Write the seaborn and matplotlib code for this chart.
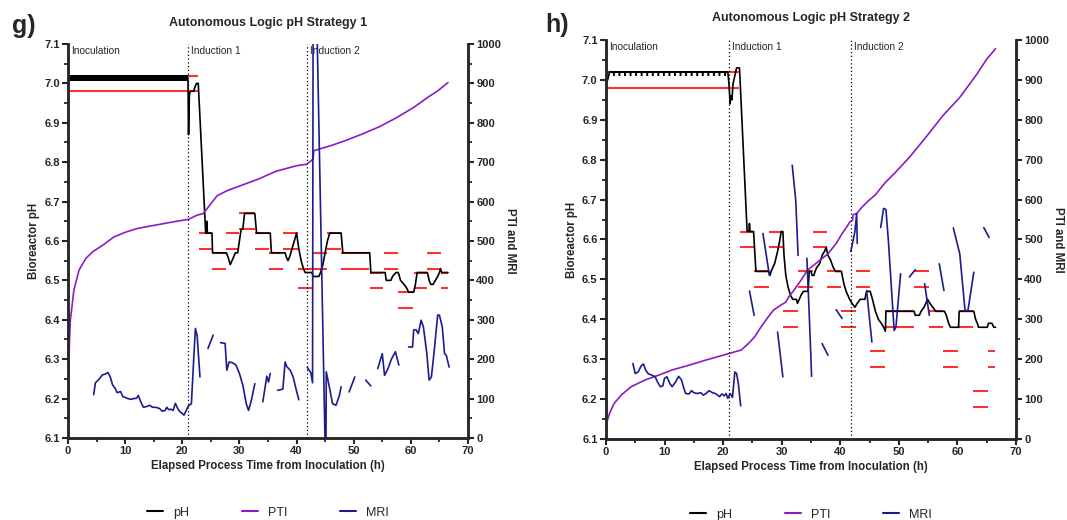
import matplotlib
matplotlib.use("Agg")
import matplotlib.pyplot as plt
from matplotlib.lines import Line2D
from matplotlib.ticker import MultipleLocator, FormatStrFormatter
import numpy as np
import pandas as pd
import seaborn as sns

gap = None

# ---------- Panel g: strategy 1 ----------
left_band = (0.0, 21.0, 7.007, 7.022)   # t0, t1, low, high of the dense pH oscillation
left_ph_t = [21.0, 21.1, 21.25, 21.4, 22.0, 22.2, 22.5, 22.8, 24.1, 24.2, 24.3, 24.4, 25.2, 25.3,
             27.7, 28.0, 28.2, 28.4, 28.7, 29.0, 29.3, 29.7, 30.0, 30.3, 30.6, 30.9, 32.7, 33.0,
             35.4, 35.6, 38.0, 38.2, 38.5, 38.8, 39.2, 39.6, 40.0, 40.4, 40.8, 41.2, 41.5, 42.7,
             42.9, 43.9, 44.2, 44.6, 45.0, 45.4, 45.8, 47.8, 48.1, 52.8, 53.0, 55.5, 55.7, 56.5,
             56.8, 57.4, 57.8, 58.2, 58.8, 59.3, 59.6, 60.5, 60.8, 61.1, 62.9, 63.2, 63.5, 63.9,
             64.3, 64.7, 65.0, 65.2, 65.4, 66.5]
left_ph_v = [7.01, 6.87, 6.97, 6.98, 6.98, 6.99, 7.00, 7.00, 6.62, 6.62, 6.65, 6.62, 6.62, 6.57,
             6.57, 6.56, 6.55, 6.54, 6.55, 6.56, 6.57, 6.57, 6.60, 6.63, 6.63, 6.67, 6.67, 6.62,
             6.62, 6.57, 6.57, 6.56, 6.55, 6.56, 6.58, 6.60, 6.62, 6.58, 6.55, 6.53, 6.52, 6.52,
             6.51, 6.51, 6.52, 6.54, 6.57, 6.60, 6.62, 6.62, 6.57, 6.57, 6.52, 6.52, 6.50, 6.50,
             6.51, 6.52, 6.52, 6.50, 6.49, 6.48, 6.47, 6.47, 6.49, 6.52, 6.52, 6.50, 6.49, 6.49,
             6.50, 6.51, 6.52, 6.53, 6.52, 6.52]
left_red_t0 = [0, 0, 22.9, 22.9, 25.2, 25.2, 27.6, 27.6, 30.0, 30.0, 32.7, 32.7, 35.1, 35.1,
               37.6, 37.6, 40.2, 40.2, 42.9, 42.9, 45.3, 45.3, 47.8, 47.8, 52.8, 52.8, 55.3, 55.3,
               57.8, 57.8, 60.5, 60.5, 62.9, 62.9, 65.3, 65.3]
left_red_t1 = [22.8, 22.8, 25.2, 25.2, 27.6, 27.6, 30.0, 30.0, 32.7, 32.7, 35.1, 35.1, 37.6, 37.6,
               40.2, 40.2, 42.7, 42.7, 45.3, 45.3, 47.8, 47.8, 52.6, 52.6, 55.2, 55.2, 57.8, 57.8,
               60.3, 60.3, 62.9, 62.9, 65.3, 65.3, 66.5, 66.5]
left_red_lvl = [7.02, 6.98, 6.62, 6.58, 6.57, 6.53, 6.62, 6.58, 6.67, 6.63, 6.62, 6.58, 6.57, 6.53,
                6.62, 6.58, 6.53, 6.48, 6.57, 6.53, 6.62, 6.58, 6.57, 6.53, 6.52, 6.48, 6.57, 6.53,
                6.47, 6.43, 6.52, 6.48, 6.57, 6.53, 6.52, 6.48]
left_pti_t = [0.0, 0.05, 0.15, 0.25, 0.42, 1.03, 1.93, 3.14, 4.35, 6.16, 8.0, 10.0, 12.2, 15.2,
              18.2, 21.1, 22.5, 23.7, 26.1, 27.9, 30.3, 33.3, 36.4, 40.0, 41.8, 42.9, 43.0, 46.0,
              48.4, 51.4, 54.5, 57.5, 60.5, 62.9, 64.7, 66.5]
left_pti_v = [0, 50, 170, 240, 299, 375, 426, 456, 473, 490, 510, 522, 532, 540,
              548, 555, 565, 570, 615, 628, 641, 657, 677, 691, 695, 708, 729, 742,
              754, 771, 790, 813, 839, 864, 881, 902]
left_mri_t = [4.5, 4.8, 5.5, 6.0, 6.5, 7.0, 7.4, 7.8, 8.3, 8.6, 9.2, 9.6, 10.0, 10.5, 11.0, 11.5,
              12.0, 12.3, 12.8, 13.2, 13.8, 14.3, 14.8, 15.3, 16.0, 16.5, 17.0, 17.3, 17.6, 18.0,
              18.4, 18.8, 19.2, 19.5, 20.0, 20.3, 20.7, 21.1, 21.6, 22.0, 22.3, 22.6, 23.1, gap,
              24.5, 25.4, gap,
              26.7, 27.5, 27.8, 28.2, 28.8, 29.4, 30.0, 30.6, 31.2, 31.6, 32.1, 32.7, gap,
              34.1, 34.8, 35.1, 35.4, gap,
              36.7, 37.6, 38.0, 38.3, 38.9, 39.4, 39.9, 40.4, gap,
              41.9, 42.5, 42.8, 42.9, 43.5, 45.0, 45.15, 45.2, 45.8, 46.3, 46.9, 47.5, 47.8, gap,
              49.2, 50.2, gap,
              52.1, 53.0, gap,
              54.2, 55.0, 55.4, 56.0, 56.6, 57.3, 57.9, gap,
              59.6, 60.3, 60.5, 60.9, 61.3, 61.8, 62.2, 62.8, 63.2, 63.6, 64.1, 64.7, 65.0, 65.5,
              65.9, 66.2, 66.7]
left_mri_v = [110, 140, 150, 160, 162, 166, 155, 135, 125, 115, 118, 105, 103, 100, 98, 100,
              101, 108, 90, 78, 80, 83, 78, 78, 75, 68, 70, 78, 72, 73,
              70, 88, 75, 68, 62, 58, 70, 82, 87, 200, 278, 260, 155, gap,
              227, 261, gap,
              242, 240, 172, 193, 191, 185, 164, 134, 87, 70, 96, 138, gap,
              92, 157, 142, 164, gap,
              121, 124, 193, 181, 172, 155, 125, 97, gap,
              179, 165, 140, 1100, 1100, -20, -20, 168, 125, 87, 83, 108, 130, gap,
              117, 155, gap,
              147, 132, gap,
              176, 214, 159, 176, 200, 219, 185, gap,
              231, 231, 274, 275, 265, 299, 282, 214, 147, 155, 223, 312, 312, 282,
              214, 210, 180]

# ---------- Panel h: strategy 2 ----------
right_band = (0.6, 20.8, 7.010, 7.020)
right_ph_t = [0.0, 0.3, 0.6, 20.8, 21.0, 21.2, 21.3, 21.5, 21.7, 22.0, 22.3, 22.8, 24.1, 24.4,
              24.5, 24.6, 25.2, 25.6, 27.8, 28.0, 28.2, 28.8, 29.3, 29.7, 29.9, 30.2, 30.4, 30.7,
              31.1, 31.5, 31.9, 32.5, 32.7, 33.0, 33.3, 33.7, 34.5, 34.7, 35.0, 35.2, 35.5, 35.7,
              36.0, 36.5, 36.9, 37.3, 37.6, 37.9, 38.3, 38.8, 39.2, 40.2, 40.6, 41.0, 41.6, 42.0,
              42.5, 42.9, 43.4, 44.2, 44.5, 45.1, 45.5, 46.0, 46.5, 47.0, 47.4, 47.7, 47.8, 52.6,
              52.8, 53.5, 53.8, 54.3, 54.9, 55.3, 55.8, 56.3, 57.8, 58.1, 58.5, 58.8, 60.2, 60.3,
              62.8, 63.1, 63.4, 63.6, 65.1, 65.3, 65.9, 66.2, 66.5]
right_ph_v = [7.00, 7.00, 7.02, 7.02, 6.99, 6.94, 6.96, 6.95, 6.99, 7.01, 7.03, 7.03, 6.62, 6.62,
              6.64, 6.62, 6.62, 6.52, 6.52, 6.51, 6.52, 6.54, 6.57, 6.60, 6.62, 6.62, 6.56, 6.51,
              6.48, 6.46, 6.45, 6.45, 6.44, 6.45, 6.46, 6.47, 6.47, 6.52, 6.52, 6.51, 6.51, 6.52,
              6.53, 6.54, 6.56, 6.57, 6.58, 6.56, 6.55, 6.53, 6.52, 6.52, 6.49, 6.47, 6.45, 6.44,
              6.43, 6.44, 6.45, 6.45, 6.47, 6.47, 6.45, 6.42, 6.40, 6.39, 6.38, 6.37, 6.42, 6.42,
              6.41, 6.41, 6.42, 6.43, 6.45, 6.44, 6.43, 6.42, 6.42, 6.41, 6.39, 6.38, 6.38, 6.42,
              6.42, 6.40, 6.39, 6.38, 6.38, 6.39, 6.39, 6.38, 6.38]
right_red_t0 = [0, 0, 22.8, 22.8, 25.3, 25.3, 27.8, 27.8, 30.2, 30.2, 32.7, 32.7, 35.3, 35.3,
                37.7, 37.7, 40.2, 40.2, 42.7, 42.7, 45.1, 45.1, 47.7, 47.7, 52.6, 52.6, 55.1, 55.1,
                57.6, 57.6, 60.2, 60.2, 62.7, 62.7, 65.2, 65.2]
right_red_t1 = [22.7, 22.7, 25.3, 25.3, 27.8, 27.8, 30.2, 30.2, 32.7, 32.7, 35.3, 35.3, 37.7, 37.7,
                40.2, 40.2, 42.7, 42.7, 45.1, 45.1, 47.6, 47.6, 52.6, 52.6, 55.1, 55.1, 57.6, 57.6,
                60.1, 60.1, 62.7, 62.7, 65.2, 65.2, 66.5, 66.5]
right_red_lvl = [7.02, 6.98, 6.62, 6.58, 6.52, 6.48, 6.62, 6.58, 6.42, 6.38, 6.52, 6.48, 6.62, 6.58,
                 6.52, 6.48, 6.42, 6.38, 6.52, 6.48, 6.32, 6.28, 6.42, 6.38, 6.52, 6.48, 6.42, 6.38,
                 6.32, 6.28, 6.42, 6.38, 6.22, 6.18, 6.32, 6.28]
right_pti_t = [0.0, 0.1, 0.6, 1.4, 2.6, 4.3, 6.7, 9.0, 11.3, 14.2, 17.1, 20.0, 23.1, 24.3, 25.4,
               26.3, 27.5, 28.6, 29.8, 30.7, 31.2, 32.1, 33.3, 34.4, 36.1, 37.9, 39.3, 40.2, 41.7,
               42.1, 42.2, 42.8, 43.7, 44.8, 46.0, 47.7, 49.4, 51.8, 54.6, 57.5, 60.4, 63.3, 65.0,
               66.5]
right_pti_v = [0, 39, 64, 89, 110, 131, 148, 160, 173, 185, 198, 210, 223, 239, 256,
               277, 302, 323, 335, 343, 356, 373, 398, 423, 443, 464, 490, 512, 545,
               548, 562, 565, 581, 597, 612, 643, 668, 706, 756, 810, 856, 914, 952,
               978]
right_mri_t = [4.6, 5.0, 5.5, 6.0, 6.4, 6.8, 7.2, 7.8, 8.4, 8.8, 9.3, 9.7, 10.0, 10.4, 10.9, 11.3,
               11.9, 12.4, 12.9, 13.3, 13.6, 14.2, 14.6, 15.0, 15.6, 16.2, 16.6, 17.1, 17.6, 18.2,
               18.8, 19.4, 19.8, 20.2, 20.5, 20.8, 21.2, 21.6, 22.0, 22.3, 22.6, 23.0, gap,
               24.5, 25.3, gap,
               26.8, 27.9, gap,
               29.3, 30.2, gap,
               31.8, 32.4, 32.8, gap,
               34.3, 34.6, 35.0, 35.1, gap,
               36.9, 37.9, gap,
               39.3, 40.3, gap,
               41.8, 42.5, 42.8, 42.9, gap,
               44.5, 45.4, gap,
               46.9, 47.4, 47.8, 48.2, 49.2, 49.5, 50.3, gap,
               51.8, 52.8, gap,
               54.4, 55.2, gap,
               56.9, 57.7, gap,
               59.3, 60.4, 61.3, 61.8, 62.8, gap,
               64.5, 65.4]
right_mri_v = [189, 164, 168, 183, 188, 172, 164, 160, 156, 143, 131, 133, 152, 156, 139, 131,
               143, 157, 148, 127, 114, 113, 121, 116, 114, 116, 110, 114, 121, 116,
               113, 106, 113, 108, 114, 102, 114, 104, 168, 164, 139, 83, gap,
               371, 310, gap,
               515, 410, gap,
               268, 156, gap,
               686, 598, 460, gap,
               453, 350, 200, 157, gap,
               239, 210, gap,
               324, 302, gap,
               470, 520, 565, 490, gap,
               372, 243, gap,
               530, 578, 575, 500, 272, 280, 414, gap,
               406, 424, gap,
               389, 310, gap,
               439, 372, gap,
               529, 464, 322, 322, 418, gap,
               530, 505]

phase_t = [21, 41.8]
phase_names = ["Inoculation", "Induction 1", "Induction 2"]
phase_start = [0, 21, 41.8]
series_names = ["pH", "PTI", "MRI"]

PH_C = "black"
PTI_C = "#8B1CC4"
MRI_C = "#1C1C8E"
RED_C = "#FF3030"

sns.set_style("ticks")
plt.rcParams["font.family"] = ["Liberation Sans", "DejaVu Sans"]
plt.rcParams["font.weight"] = "bold"
plt.rcParams["axes.labelweight"] = "bold"
plt.rcParams["axes.titleweight"] = "bold"
plt.rcParams["hatch.linewidth"] = 1.4


def segments(t, v):
    df = pd.DataFrame({"t": t, "v": v}, dtype=float)
    df["seg"] = df["t"].isna().cumsum()
    return df.dropna()


def draw_panel(ax, title, band, hatch, ph_t, ph_v, red_t0, red_t1, red_lvl,
               pti_t, pti_v, mri_t, mri_v, title_pad):
    ax2 = ax.twinx()

    # pH side
    ax.hlines(red_lvl, red_t0, red_t1, color=RED_C, lw=1.5, zorder=2)
    if hatch:
        ax.fill_between([band[0], band[1]], band[2], band[3], facecolor="none",
                        edgecolor=PH_C, hatch="|||", linewidth=0, zorder=3)
        ax.hlines(band[3], band[0], band[1], color=PH_C, lw=1.3, zorder=3)
    else:
        ax.fill_between([band[0], band[1]], band[2], band[3], color=PH_C,
                        linewidth=0, zorder=3)
    ph = pd.DataFrame({"t": ph_t, "ph": ph_v})
    sns.lineplot(data=ph, x="t", y="ph", ax=ax, color=PH_C, lw=1.2,
                 estimator=None, sort=False, zorder=3)
    for t in phase_t:
        ax.axvline(t, color="black", ls=(0, (1, 2)), lw=0.9)
    for t0, name in zip(phase_start, phase_names):
        ax.text(t0 + 0.6, 7.095, name, fontsize=7.3, fontweight="normal", va="top", ha="left")

    # PTI / MRI side
    pti = pd.DataFrame({"t": pti_t, "v": pti_v})
    sns.lineplot(data=pti, x="t", y="v", ax=ax2, color=PTI_C, lw=1.2,
                 estimator=None, sort=False)
    sns.lineplot(data=segments(mri_t, mri_v), x="t", y="v", units="seg", ax=ax2,
                 color=MRI_C, lw=1.2, estimator=None, sort=False, legend=False)

    ax.set_xlim(0, 70)
    ax.set_ylim(6.1, 7.1)
    ax2.set_ylim(0, 1000)
    ax.xaxis.set_major_locator(MultipleLocator(10))
    ax.xaxis.set_minor_locator(MultipleLocator(5))
    ax.yaxis.set_major_locator(MultipleLocator(0.1))
    ax.yaxis.set_minor_locator(MultipleLocator(0.05))
    ax.yaxis.set_major_formatter(FormatStrFormatter("%.1f"))
    ax2.yaxis.set_major_locator(MultipleLocator(100))
    ax2.yaxis.set_minor_locator(MultipleLocator(50))

    for a in (ax, ax2):
        a.tick_params(which="major", length=4, width=1.5, labelsize=8, pad=2)
        a.tick_params(which="minor", length=3, width=1.3)
        a.spines["top"].set_visible(False)
        for s in ("left", "right", "bottom"):
            a.spines[s].set_linewidth(1.8)

    ax.set_xlabel("Elapsed Process Time from Inoculation (h)", fontsize=8.3, labelpad=3)
    ax.set_ylabel("Bioreactor pH", fontsize=8.3, labelpad=3)
    ax2.set_ylabel("PTI and MRI", fontsize=8.3, rotation=270, labelpad=11)
    ax.set_title(title, fontsize=9, pad=title_pad)

    handles = [Line2D([0], [0], color=c, lw=1.5) for c in (PH_C, PTI_C, MRI_C)]
    ax2.legend(handles, series_names, loc="center", bbox_to_anchor=(0.5, -0.19),
               ncol=3, frameon=False, columnspacing=4.2, handlelength=1.3,
               handletextpad=0.8, prop={"weight": "normal", "size": 9})
    return ax2


fig = plt.figure(figsize=(10.67, 5.2), dpi=100)
ax_g = fig.add_axes([0.0637, 0.1577, 0.3749, 0.7577])
ax_h = fig.add_axes([0.5679, 0.1558, 0.3843, 0.7673])

draw_panel(ax_g, "Autonomous Logic pH Strategy 1", left_band, False, left_ph_t, left_ph_v,
           left_red_t0, left_red_t1, left_red_lvl, left_pti_t, left_pti_v,
           left_mri_t, left_mri_v, 13)
draw_panel(ax_h, "Autonomous Logic pH Strategy 2", right_band, True, right_ph_t, right_ph_v,
           right_red_t0, right_red_t1, right_red_lvl, right_pti_t, right_pti_v,
           right_mri_t, right_mri_v, 14)

fig.text(0.011, 0.937, "g)", fontsize=18, fontweight="bold", va="baseline")
fig.text(0.511, 0.939, "h)", fontsize=18, fontweight="bold", va="baseline")

fig.savefig("out.png", dpi=100)
